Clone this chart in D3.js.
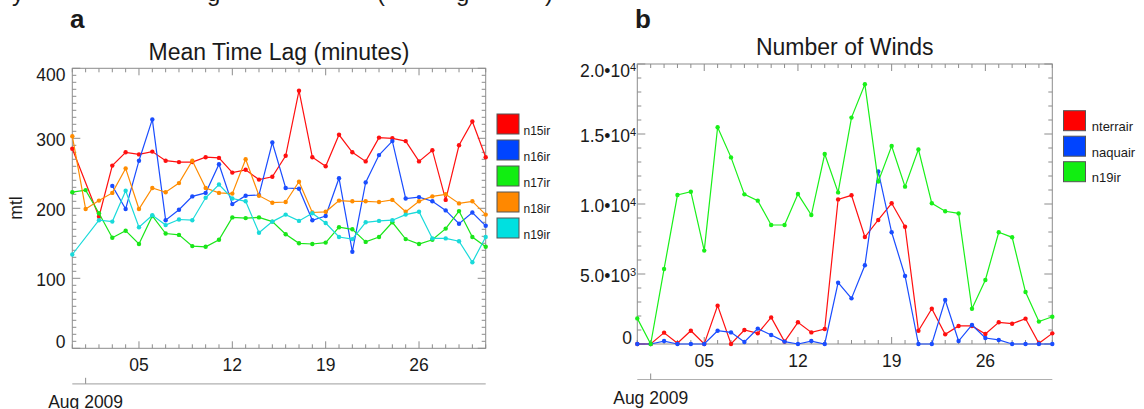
<!DOCTYPE html>
<html lang="en">
<head>
<meta charset="UTF-8">
<title>Mean Time Lag / Number of Winds</title>
<script src="https://d3js.org/d3.v7.min.js"></script>
<style>
  body { margin: 0; background: #fff; }
  svg text { font-family: "Liberation Sans", Arial, Helvetica, sans-serif; fill: #1a1a1a; }
  .frame { fill: none; stroke: #8c8c8c; stroke-width: 1; }
  .tk { stroke: #8c8c8c; stroke-width: 1; }
  .series path { fill: none; stroke-width: 1.2; }
  .swatch { stroke: #555; stroke-width: 1; }
</style>
</head>
<body>
<svg id="chart" width="1144" height="409"></svg>

<script>
// day of month in Aug 2009 (0 = last day of July)
var days = d3.range(0, 32);
var dayTicks = [5, 12, 19, 26];
var dayLabels = ['05', '12', '19', '26'];
var monthTick = 1;
var monthLabel = 'Aug 2009';

// panel a: mean time lag (minutes)
var lagNames = ['n15ir', 'n16ir', 'n17ir', 'n18ir', 'n19ir'];
var lagColors = ['#ff1010', '#1a4dff', '#19e619', '#ff8c00', '#19dada'];
var n15ir = [285, null, 188, 261, 280, 277, 281, 268, 266, 266, 273, 272, 251, 255, 241, 245,
             275, 368, 273, 260, 305, 280, 267, 301, 300, 296, 267, 283, 212, 290, 324, 273];
var n16ir = [null, null, null, 232, 199, 268, 327, 183, 198, 217, 222, 263, 206, 218, 219, 294,
             229, 228, 183, 189, 243, 138, 237, 276, 296, 214, 216, 210, 197, 178, 194, 175];
var n17ir = [223, 226, 193, 158, 168, 149, 189, 164, 162, 146, 145, 155, 187, 186, 187, 181,
             163, 150, 149, 151, 173, 170, 152, 159, 180, 156, 149, 155, 171, 196, 159, 145];
var n18ir = [303, 199, 211, 222, 257, 199, 229, 223, 236, 268, 229, 222, 221, 270, 218, 208,
             209, 238, 194, 195, 211, 210, 210, 209, 212, 195, 210, 217, 220, 207, 210, 191];
var n19ir = [134, null, 183, 181, 225, 173, 190, 176, 184, 183, 215, 234, 214, 210, 165, 181,
             191, 182, 193, 179, 159, 156, 180, 182, 183, 191, 195, 157, 157, 153, 123, 159];
var lagTicks = [0, 100, 200, 300, 400];

// panel b: number of winds
var windNames = ['nterrair', 'naquair', 'n19ir'];
var windColors = ['#ff1010', '#1a4dff', '#19f019'];
var nterrair = [0, 0, 810, 50, 950, 0, 2740, 0, 1000, 760, 1900, 170, 1550, 830, 1070, 10330,
                10620, 7640, 8860, 10050, 8380, 950, 2520, 690, 1290, 1290, 710, 1550, 1450, 1810, 50, 760];
var naquair = [0, 0, 210, 0, 0, 0, 950, 830, 140, 1100, 640, 170, 0, 210, 0, 4380,
               3260, 5620, 12330, 7980, 4860, 0, 0, 3140, 210, 1360, 430, 290, 0, 0, 0, 0];
var n19irWinds = [1830, 0, 5360, 10640, 10880, 6670, 15480, 13330, 10690, 10240, 8500, 8500, 10710, 9210, 13570, 10830,
                  16170, 18550, 11600, 14140, 11240, 13900, 10050, 9480, 9330, 2520, 4570, 7980, 7620, 3710, 1600, 1950];
var windTicks = [0, 5000, 10000, 15000, 20000];
var windTickText = [['0', ''], ['5.0\u202210', '3'], ['1.0\u202210', '4'], ['1.5\u202210', '4'], ['2.0\u202210', '4']];

var svg = d3.select('#chart');

function drawPanel(p) {
    var g = svg.append('g');
    var x = d3.scaleLinear().domain([0, 31]).range([p.left, p.right]);
    var y = d3.scaleLinear().domain(p.yDomain).range([p.bottom, p.top]);

    // y ticks, inward on both sides
    var yMinor = d3.range(p.yDomain[0], p.yDomain[1] + 1, p.yMinor);
    yMinor.forEach(function (v) {
        var major = p.yTicks.indexOf(v) >= 0, len = major ? 8 : 4;
        g.append('line').attr('class', 'tk').attr('x1', p.left).attr('x2', p.left + len).attr('y1', y(v)).attr('y2', y(v));
        g.append('line').attr('class', 'tk').attr('x1', p.right).attr('x2', p.right - len).attr('y1', y(v)).attr('y2', y(v));
    });
    // x ticks, one per day
    days.forEach(function (d) {
        var major = dayTicks.indexOf(d) >= 0, len = major ? 7 : 4;
        g.append('line').attr('class', 'tk').attr('x1', x(d)).attr('x2', x(d)).attr('y1', p.bottom).attr('y2', p.bottom - len);
        g.append('line').attr('class', 'tk').attr('x1', x(d)).attr('x2', x(d)).attr('y1', p.top).attr('y2', p.top + len);
    });

    g.append('rect').attr('class', 'frame')
        .attr('x', p.left).attr('y', p.top)
        .attr('width', p.right - p.left).attr('height', p.bottom - p.top);

    // y labels (end labels are pulled inside the frame like the original)
    p.yTicks.forEach(function (v, i) {
        var ty = y(v) + 1.5;
        if (i === 0) ty = p.bottom - 6;
        if (i === p.yTicks.length - 1) ty = p.top + 6.5;
        var t = g.append('text').attr('x', p.labelRight(i)).attr('y', ty).attr('dy', '0.35em')
            .attr('text-anchor', 'end').style('font-size', '17.5px');
        var lab = p.yLabel(i);
        t.append('tspan').text(lab[0]);
        if (lab[1]) t.append('tspan').attr('dy', '-0.55em').style('font-size', '11px').text(lab[1]);
    });

    // x labels
    dayTicks.forEach(function (d, i) {
        g.append('text').attr('x', x(d)).attr('y', p.bottom + 17).attr('dy', '0.35em')
            .attr('text-anchor', 'middle').style('font-size', '17.5px').text(dayLabels[i]);
    });

    // month axis
    var ay = p.bottom + 35.5;
    g.append('line').attr('x1', p.left).attr('x2', p.right).attr('y1', ay).attr('y2', ay)
        .attr('stroke', '#b0b0b0').attr('stroke-width', 1.2);
    g.append('line').attr('class', 'tk').attr('x1', x(monthTick)).attr('x2', x(monthTick)).attr('y1', ay).attr('y2', ay - 6);
    g.append('text').attr('x', x(monthTick)).attr('y', p.bottom + 53.5).attr('dy', '0.35em')
        .attr('text-anchor', 'middle').style('font-size', '17.5px').text(monthLabel);

    // title and panel letter
    g.append('text').attr('x', (p.left + p.right) / 2).attr('y', p.top - 8.6)
        .attr('text-anchor', 'middle').style('font-size', '23px').text(p.title);
    g.append('text').attr('x', p.letterX).attr('y', 28)
        .style('font-size', '26px').style('font-weight', 'bold').text(p.letter);

    if (p.yTitle) {
        g.append('text').attr('transform', 'translate(22,208) rotate(-90)')
            .attr('text-anchor', 'middle').style('font-size', '17.5px').text(p.yTitle);
    }

    // series
    var line = d3.line().x(function (d) { return x(d.day); }).y(function (d) { return y(d.v); });
    p.series.forEach(function (s, k) {
        var pts = s.map(function (v, i) { return {day: days[i], v: v}; })
            .filter(function (d) { return d.v !== null; });
        var sg = g.append('g').attr('class', 'series');
        sg.append('path').attr('d', line(pts)).attr('stroke', p.colors[k]);
        sg.selectAll('circle').data(pts).enter().append('circle')
            .attr('cx', function (d) { return x(d.day); })
            .attr('cy', function (d) { return y(d.v); })
            .attr('r', 2.2).attr('fill', p.colors[k]);
    });

    // legend
    p.names.forEach(function (n, k) {
        var ly = p.legY + k * p.legStep;
        g.append('rect').attr('class', 'swatch').attr('x', p.legX).attr('y', ly)
            .attr('width', 22).attr('height', 20).attr('fill', p.swatch[k]);
        g.append('text').attr('x', p.legX + p.legText).attr('y', ly + 20.5)
            .style('font-size', p.legFont).text(n);
    });
}

drawPanel({
    left: 72.3, right: 485.7, top: 68.3, bottom: 348.3,
    yDomain: [0, 400], yTicks: lagTicks, yMinor: 10,
    yLabel: function (i) { return [String(lagTicks[i]), '']; },
    labelRight: function () { return 65.5; },
    title: 'Mean Time Lag (minutes)', letter: 'a', letterX: 70, yTitle: 'mtl',
    series: [n15ir, n16ir, n17ir, n18ir, n19ir], colors: lagColors,
    names: lagNames, swatch: ['#ff0000', '#0044ff', '#11ee11', '#ff8800', '#00e0e0'],
    legX: 497, legY: 114, legStep: 26, legText: 26.5, legFont: '12px'
});

drawPanel({
    left: 637.3, right: 1052.3, top: 64, bottom: 344,
    yDomain: [0, 20000], yTicks: windTicks, yMinor: 1000,
    yLabel: function (i) { return windTickText[i]; },
    labelRight: function (i) { return i === 0 ? 632 : 636; },
    title: 'Number of Winds', letter: 'b', letterX: 635, yTitle: null,
    series: [nterrair, naquair, n19irWinds], colors: windColors,
    names: windNames, swatch: ['#ff0000', '#0044ff', '#11ee11'],
    legX: 1063.5, legY: 110.7, legStep: 25.5, legText: 28.3, legFont: '13px'
});

// bottom of a caption line cut off at the top edge of the picture
var capChars = [['y', 12], ['g', 207], ['(', 377], ['g', 456], [')', 545]];
capChars.forEach(function (c) {
    svg.append('text').attr('x', c[1]).attr('y', 0.5).style('font-size', '24px').text(c[0]);
});
</script>
</body>
</html>
